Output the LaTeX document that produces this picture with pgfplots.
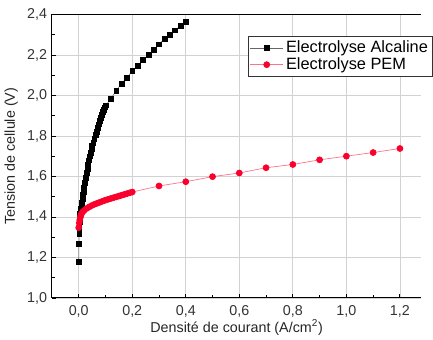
\documentclass[border=0pt]{standalone}
\usepackage{fontspec}
\setmainfont{Liberation Sans}
\usepackage{pgfplots}
\pgfplotsset{compat=1.18}
\definecolor{pemred}{RGB}{250,0,45}
\begin{document}
\begin{tikzpicture}
\begin{axis}[
  scale only axis, width=271pt, height=208pt,
  xmin=-0.1, xmax=1.28, ymin=1.0, ymax=2.4,
  axis x line=box, axis y line=left,
  axis line style={-, black, line width=0.7pt},
  xtick={0,0.2,0.4,0.6,0.8,1.0,1.2},
  ytick={1.0,1.2,1.4,1.6,1.8,2.0,2.2,2.4},
  minor x tick num=1, minor y tick num=1,
  xtick pos=left, ytick pos=left, tick align=inside,
  major tick length=3pt, minor tick length=2pt,
  tick style={black, line width=0.6pt},
  grid=major, major grid style={gray!35, line width=0.5pt},
  /pgf/number format/.cd, use comma, fixed, fixed zerofill, precision=1, assume math mode=true,
  /pgfplots/.cd,
  tick label style={font=\fontsize{10.5}{12}\selectfont, text=black!80},
  xticklabel style={yshift=-2pt},
  yticklabel style={xshift=0pt},
  xlabel={Densité de courant (A/cm\textsuperscript{2})},
  ylabel={Tension de cellule (V)},
  xlabel style={yshift=5pt},
  label style={font=\fontsize{10.5}{12}\selectfont, text=black!85},
  legend style={at={(0.53,0.924)}, anchor=north west, draw=black!80, line width=0.5pt,
    font=\fontsize{12}{13}\selectfont, inner sep=1.5pt, row sep=-2pt, cells={anchor=west}},
  legend cell align=left,
  legend image code/.code={\draw[mark repeat=2,mark phase=2] plot coordinates {(0cm,0cm) (0.42cm,0cm) (0.84cm,0cm)};},
]
\addplot[black!60, line width=0.4pt, mark=square*, mark size=1.8pt, mark options={black, fill=black, line width=0.3pt}] table {
x y
0.000 1.177
0.001 1.270
0.002 1.315
0.002 1.347
0.003 1.375
0.004 1.398
0.005 1.415
0.006 1.428
0.008 1.442
0.010 1.455
0.012 1.472
0.014 1.490
0.016 1.508
0.018 1.525
0.020 1.545
0.023 1.570
0.026 1.595
0.029 1.620
0.032 1.640
0.035 1.660
0.038 1.680
0.041 1.700
0.044 1.718
0.047 1.735
0.050 1.750
0.054 1.768
0.058 1.786
0.062 1.805
0.066 1.822
0.070 1.840
0.074 1.858
0.078 1.875
0.082 1.890
0.086 1.905
0.090 1.918
0.094 1.930
0.098 1.942
0.102 1.952
0.12 1.983
0.14 2.023
0.16 2.059
0.18 2.087
0.20 2.120
0.22 2.147
0.24 2.175
0.26 2.201
0.28 2.226
0.30 2.253
0.32 2.278
0.34 2.301
0.36 2.322
0.38 2.344
0.40 2.362
};
\addlegendentry{Electrolyse Alcaline}
\addplot[pemred!55, line width=0.5pt, mark=*, mark size=2.2pt, mark options={pemred, fill=pemred}] table {
x y
0.000 1.347
0.002 1.370
0.004 1.385
0.006 1.398
0.008 1.408
0.010 1.415
0.015 1.425
0.020 1.432
0.030 1.442
0.040 1.450
0.050 1.457
0.060 1.463
0.070 1.468
0.080 1.473
0.090 1.478
0.100 1.483
0.110 1.487
0.120 1.491
0.130 1.495
0.140 1.499
0.150 1.503
0.160 1.507
0.170 1.511
0.180 1.515
0.190 1.519
0.200 1.523
0.300 1.553
0.400 1.574
0.500 1.599
0.600 1.617
0.700 1.643
0.800 1.659
0.900 1.682
1.000 1.700
1.100 1.718
1.200 1.738
};
\addlegendentry{Electrolyse PEM}
\coordinate (topright) at (rel axis cs:1,1);
\end{axis}
\path (topright) ++(0pt,10.6pt);
\end{tikzpicture}
\end{document}
